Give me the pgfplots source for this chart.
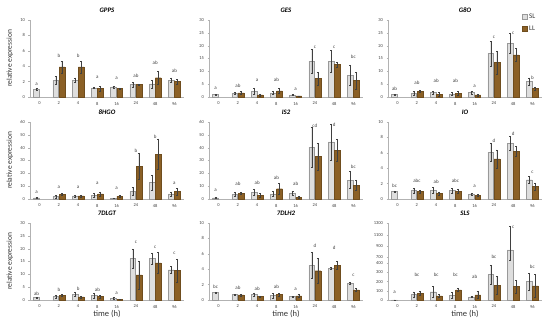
\documentclass[border=0pt]{standalone}
\usepackage{fontspec}
\setmainfont{Carlito}
\usepackage{pgfplots}
\pgfplotsset{compat=1.18}
\definecolor{llbrown}{RGB}{139,96,38}
\definecolor{slgray}{RGB}{222,222,222}
\newcommand\tickfont{\fontsize{4.5}{5}\selectfont}
\newcommand\letterfont{\fontsize{5}{6}\selectfont}
\newcommand\titlefont{\fontsize{6.8}{8}\selectfont\bfseries\itshape}
\pgfplotsset{
  panel/.style={
    scale only axis, width=154pt, height=77pt,
    axis lines*=left, axis line style={draw=black!30, line width=0.4pt},
    xmin=-0.5, xmax=7.5, ymin=0,
    xtick={0,...,7}, xticklabels={0,2,4,8,16,24,48,96},
    xtick style={draw=none},
    ytick style={draw=black!30},
    tick align=outside, major tick length=1.5pt,
    /pgf/number format/assume math mode=true,
    tick label style={font=\tickfont, text=black!75},
    title style={font=\titlefont, at={(0.5,1)}, anchor=south, inner sep=1pt},
    clip=false,
    legend image code/.code={\draw[#1] (0pt,-2.5pt) rectangle (5pt,2.5pt);},
  },
  slbar/.style={ybar, bar width=0.3, bar shift=0pt, fill=slgray, draw=black!40, line width=0.4pt,
    error bars/.cd, y dir=both, y explicit,
    error bar style={black!75, line width=0.35pt},
    error mark options={rotate=90, mark size=1pt, black!75, line width=0.35pt}},
  llbar/.style={ybar, bar width=0.3, bar shift=0pt, fill=llbrown, draw=llbrown!80!black, line width=0.4pt,
    error bars/.cd, y dir=both, y explicit,
    error bar style={black!75, line width=0.35pt},
    error mark options={rotate=90, mark size=1pt, black!75, line width=0.35pt}},
  letters/.style={draw=none, mark=none, forget plot, nodes near coords, point meta=explicit symbolic,
    nodes near coords style={font=\letterfont, text=black!75, anchor=center, inner sep=0pt}},
}
\newcommand\ylab{\node[rotate=90, font=\fontsize{7.5}{9}\selectfont, text=black!80] at (axis description cs:-0.13,0.5) {relative expression};}
\newcommand\xlab{\node[font=\fontsize{8.5}{10}\selectfont, text=black!80] at (axis description cs:0.5,0) [yshift=-14pt] {time (h)};}
\begin{document}
\begin{tikzpicture}
\useasboundingbox (0pt,0pt) rectangle (550pt,324pt);
% ---------------- Row 1 ----------------
\begin{axis}[panel, at={(30pt,227pt)}, title={GPPS}, ymax=10, ytick={0,2,...,10}]
\addplot[slbar] table[x=x,y=y,y error=e] {
x y e
-0.16 1.0 0.1
0.84 2.2 0.5
1.84 2.2 0.3
2.84 1.2 0.1
3.84 1.3 0.1
4.84 1.6 0.3
5.84 1.7 0.5
6.84 2.2 0.3
};
\addplot[llbar] table[x=x,y=y,y error=e] {
x y e
1.16 3.9 0.8
2.16 3.9 0.8
3.16 1.1 0.3
4.16 1.1 0.1
5.16 1.6 0.1
6.16 2.5 0.8
7.16 2.0 0.3
};
\addplot[letters] table[x=x,y=y,meta=l] {
x y l
-0.16 1.6 a
1 5.3 b
2 5.3 b
3 2.6 a
4 2.4 a
5 2.7 ab
6 4.5 ab
7 3.4 ab
};
\ylab
\end{axis}
\begin{axis}[panel, at={(209pt,227pt)}, title={GES}, ymax=30, ytick={0,5,...,30}]
\addplot[slbar] table[x=x,y=y,y error=e] {
x y e
-0.16 1.0 0.1
0.84 1.5 0.3
1.84 2.3 1.3
2.84 1.6 0.5
3.84 0.8 0.2
4.84 14.0 4.6
5.84 13.9 4.3
6.84 8.5 4.0
};
\addplot[llbar] table[x=x,y=y,y error=e] {
x y e
1.16 1.6 0.5
2.16 0.8 0.4
3.16 2.4 1.0
4.16 0.4 0.1
5.16 7.2 2.5
6.16 12.7 1.0
7.16 6.4 3.2
};
\addplot[letters] table[x=x,y=y,meta=l] {
x y l
-0.16 3.5 a
1 4.4 ab
2 6.5 a
3 6.6 ab
4 3.1 a
5 19.3 c
6 19.3 c
7 15.6 bc
};
\end{axis}
\begin{axis}[panel, at={(388pt,227pt)}, title={G8O}, ymax=30, ytick={0,5,...,30},
  legend style={at={(0.87,1.10)}, anchor=north west, draw=none, fill=none,
    font=\fontsize{7}{8}\selectfont, text=black!80, inner sep=0pt, row sep=3pt,
    nodes={inner sep=1.5pt}}, legend cell align=left]
\addplot[slbar] table[x=x,y=y,y error=e] {
x y e
-0.16 0.9 0.2
0.84 1.5 0.6
1.84 1.7 0.7
2.84 1.2 0.6
3.84 1.7 0.5
4.84 17.0 4.8
5.84 21.0 4.0
6.84 6.0 1.5
};
\addplot[llbar] table[x=x,y=y,y error=e] {
x y e
1.16 2.3 0.5
2.16 1.1 0.8
3.16 1.5 0.8
4.16 0.8 0.4
5.16 13.5 4.5
6.16 16.4 2.5
7.16 3.4 0.6
};
\addplot[letters] table[x=x,y=y,meta=l] {
x y l
-0.16 3.1 ab
1 5.7 ab
2 6.3 ab
3 6.3 ab
4 4.0 a
5 23.2 c
6 25.0 c
7 7.4 b
};
\legend{SL,LL}
\end{axis}
% ---------------- Row 2 ----------------
\begin{axis}[panel, at={(30pt,125pt)}, title={8HGO}, ymax=60, ytick={0,10,...,60}]
\addplot[slbar] table[x=x,y=y,y error=e] {
x y e
-0.16 1.0 0.2
0.84 2.0 1.0
1.84 2.5 0.7
2.84 2.7 1.5
3.84 0.7 0.2
4.84 6.0 3.0
5.84 12.8 6.0
6.84 4.0 1.5
};
\addplot[llbar] table[x=x,y=y,y error=e] {
x y e
1.16 3.8 0.5
2.16 2.5 0.8
3.16 4.0 1.5
4.16 2.3 0.8
5.16 25.5 10.0
6.16 35.0 12.0
7.16 5.8 2.5
};
\addplot[letters] table[x=x,y=y,meta=l] {
x y l
-0.16 5.3 a
1 9.0 a
2 9.0 a
3 12.3 a
4 8.0 a
5 37.9 b
6 48.5 b
7 12.3 a
};
\ylab
\end{axis}
\begin{axis}[panel, at={(209pt,125pt)}, title={IS2}, ymax=60, ytick={0,10,...,60}]
\addplot[slbar] table[x=x,y=y,y error=e] {
x y e
-0.16 1.0 0.3
0.84 3.5 1.5
1.84 5.3 2.5
2.84 4.0 2.0
3.84 4.8 1.5
4.84 40.5 15.5
5.84 44.5 14.0
6.84 14.7 6.6
};
\addplot[llbar] table[x=x,y=y,y error=e] {
x y e
1.16 4.5 0.7
2.16 3.0 1.5
3.16 8.0 4.0
4.16 1.5 0.5
5.16 33.1 10.6
6.16 37.9 8.5
7.16 10.9 4.0
};
\addplot[letters] table[x=x,y=y,meta=l] {
x y l
-0.16 6.4 a
1 11.7 ab
2 12.5 ab
3 16.8 ab
4 11.7 ab
5 57.3 cd
6 58.0 d
7 25.3 bc
};
\end{axis}
\begin{axis}[panel, at={(388pt,125pt)}, title={IO}, ymax=10, ytick={0,2,...,10}]
\addplot[slbar] table[x=x,y=y,y error=e] {
x y e
-0.16 1.0 0.05
0.84 1.1 0.3
1.84 1.1 0.4
2.84 1.1 0.3
3.84 0.6 0.1
4.84 6.1 1.2
5.84 7.2 0.9
6.84 2.5 0.4
};
\addplot[llbar] table[x=x,y=y,y error=e] {
x y e
1.16 0.95 0.2
2.16 0.75 0.2
3.16 1.0 0.3
4.16 0.5 0.1
5.16 5.2 1.2
6.16 6.2 0.7
7.16 1.6 0.4
};
\addplot[letters] table[x=x,y=y,meta=l] {
x y l
-0.16 1.7 bc
1 2.4 abc
2 2.2 ab
3 2.4 abc
4 1.6 a
5 7.6 d
6 8.5 d
7 3.5 c
};
\end{axis}
% ---------------- Row 3 ----------------
\begin{axis}[panel, at={(30pt,24pt)}, title={7DLGT}, ymax=30, ytick={0,5,...,30}]
\addplot[slbar] table[x=x,y=y,y error=e] {
x y e
-0.16 1.0 0.1
0.84 1.3 0.5
1.84 2.3 0.8
2.84 1.7 0.8
3.84 0.7 0.3
4.84 16.1 3.8
5.84 16.2 2.2
6.84 11.8 1.3
};
\addplot[llbar] table[x=x,y=y,y error=e] {
x y e
1.16 1.9 0.3
2.16 1.2 0.4
3.16 1.3 0.4
4.16 0.3 0.1
5.16 9.8 5.5
6.16 14.5 4.2
7.16 11.5 4.5
};
\addplot[letters] table[x=x,y=y,meta=l] {
x y l
-0.16 2.6 ab
1 4.1 b
2 4.2 b
3 3.9 ab
4 2.8 a
5 22.3 c
6 20.6 c
7 18.3 c
};
\ylab
\xlab
\end{axis}
\begin{axis}[panel, at={(209pt,24pt)}, title={7DLH2}, ymax=10, ytick={0,2,...,10}]
\addplot[slbar] table[x=x,y=y,y error=e] {
x y e
-0.16 1.0 0.05
0.84 0.7 0.05
1.84 0.7 0.25
2.84 0.6 0.3
3.84 0.45 0.05
4.84 4.5 1.7
5.84 4.1 0.1
6.84 2.2 0.1
};
\addplot[llbar] table[x=x,y=y,y error=e] {
x y e
1.16 0.65 0.1
2.16 0.45 0.1
3.16 0.7 0.2
4.16 0.55 0.2
5.16 3.8 1.6
6.16 4.5 0.5
7.16 1.3 0.2
};
\addplot[letters] table[x=x,y=y,meta=l] {
x y l
-0.16 1.7 bc
1 1.6 ab
2 1.4 ab
3 1.7 ab
4 1.4 a
5 7.0 d
6 6.8 d
7 3.2 c
};
\xlab
\end{axis}
% SLS: broken axis; values above 400 are given on the compressed upper scale
% (plotted 462 = 700, 582 = 900, 709 = 1100, 836 = 1300)
\begin{axis}[panel, at={(388pt,24pt)}, title={SLS}, ymax=836,
  ytick={0,100,200,300,400,462,582,709,836},
  yticklabels={0,100,200,300,400,700,900,1100,1300}]
\addplot[slbar] table[x=x,y=y,y error plus=ep,y error minus=em] {
x y ep em
-0.16 1 0.5 0.5
0.84 60 30 30
1.84 90 60 60
2.84 50 30 30
3.84 35 5 5
4.84 276 106 106
5.84 545 255 110
6.84 200 90 90
};
\addplot[llbar] table[x=x,y=y,y error=e] {
x y e
1.16 73 25
2.16 44 15
3.16 109 15
4.16 55 40
5.16 160 95
6.16 145 66
7.16 153 127
};
\addplot[letters] table[x=x,y=y,meta=l] {
x y l
-0.16 80 a
1 273 bc
2 273 bc
3 273 bc
4 255 ab
5 473 bc
6 790 c
7 364 bc
};
\xlab
\end{axis}
\end{tikzpicture}
\end{document}
